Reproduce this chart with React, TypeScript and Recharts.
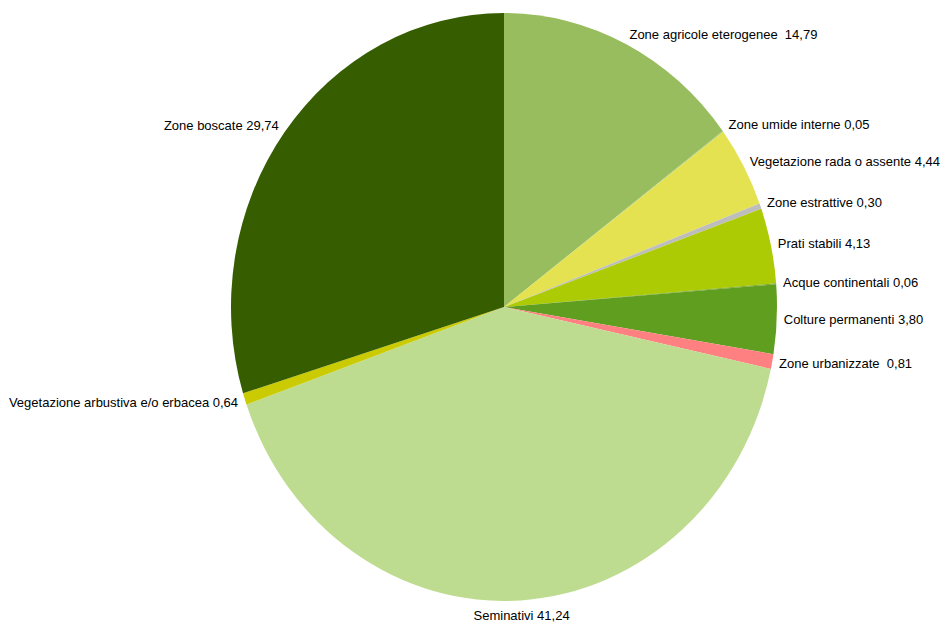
import { PieChart, Pie, Cell, Sector } from 'recharts';

const categories = [
  'Zone agricole eterogenee ',
  'Zone umide interne',
  'Vegetazione rada o assente',
  'Zone estrattive',
  'Prati stabili',
  'Acque continentali',
  'Colture permanenti',
  'Zone urbanizzate ',
  'Seminativi',
  'Vegetazione arbustiva e/o erbacea',
  'Zone boscate',
];

const shares = [14.79, 0.05, 4.44, 0.3, 4.13, 0.06, 3.8, 0.81, 41.24, 0.64, 29.74];

const colors = [
  '#98BD5E',
  '#A9C873',
  '#E4E250',
  '#BDBDBD',
  '#ADCB04',
  '#7EA81A',
  '#5F9E1F',
  '#FF8080',
  '#BEDC8F',
  '#CBCB04',
  '#365E00',
];

const chartData = categories.map((name, i) => ({ name, value: shares[i] }));

const RAD = Math.PI / 180;
// the original is slightly squashed horizontally
const XSCALE = 273 / 294;

const fmt = (v: number) => v.toFixed(2).replace('.', ',');

function OvalSector(props: any) {
  const { cx } = props;
  return (
    <g transform={`translate(${cx} 0) scale(${XSCALE} 1) translate(${-cx} 0)`}>
      <Sector {...props} stroke="none" />
    </g>
  );
}

function renderLabel(props: any) {
  const { cx, cy, midAngle, outerRadius, name, value } = props;
  const ux = Math.cos(-midAngle * RAD);
  const uy = Math.sin(-midAngle * RAD);
  const x = cx + (outerRadius * XSCALE + 7) * ux;
  const y = cy + (outerRadius + 11) * uy + (uy > 0.9 ? 4 : 0);
  const anchor = Math.abs(ux) < 0.2 ? 'middle' : ux > 0 ? 'start' : 'end';
  return (
    <text
      x={x}
      y={y}
      textAnchor={anchor}
      dominantBaseline="central"
      fill="#000"
      fontSize={13}
      fontFamily="'Liberation Sans', Arial, sans-serif"
      style={{ whiteSpace: 'pre' }}
    >
      {`${name} ${fmt(value)}`}
    </text>
  );
}

export default function App() {
  return (
    <div style={{ position: 'absolute', left: 0, top: 0, width: 944, height: 628, background: '#fff' }}>
      <PieChart width={944} height={628} margin={{ top: 0, right: 0, bottom: 0, left: 0 }}>
        <Pie
          data={chartData}
          dataKey="value"
          nameKey="name"
          cx={504}
          cy={307}
          outerRadius={294}
          startAngle={90}
          endAngle={-270}
          stroke="none"
          shape={OvalSector}
          label={renderLabel}
          labelLine={false}
          isAnimationActive={false}
        >
          {chartData.map((d, i) => (
            <Cell key={d.name} fill={colors[i]} />
          ))}
        </Pie>
      </PieChart>
    </div>
  );
}
